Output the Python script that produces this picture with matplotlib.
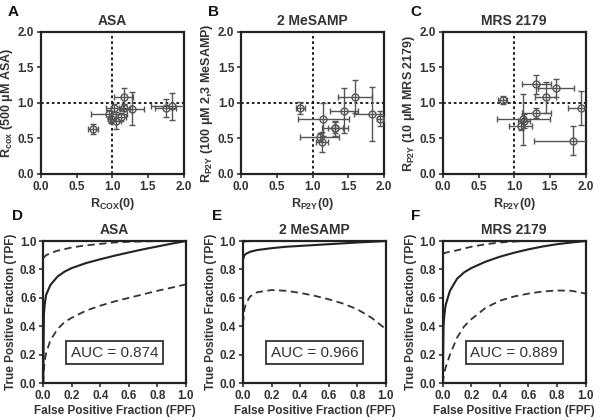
import matplotlib
matplotlib.use("Agg")
import matplotlib.pyplot as plt

plt.rcParams['font.family'] = ['Liberation Sans', 'DejaVu Sans']
plt.rcParams['font.weight'] = 'bold'
plt.rcParams['axes.labelweight'] = 'bold'
plt.rcParams['axes.titleweight'] = 'bold'
plt.rcParams['mathtext.fontset'] = 'custom'
plt.rcParams['mathtext.rm'] = 'Liberation Sans:bold'
plt.rcParams['mathtext.bf'] = 'Liberation Sans:bold'
plt.rcParams['mathtext.default'] = 'bf'

TXT = '#333333'

# ---- scatter data (top row) ----
titles_top = ['ASA', '2 MeSAMP', 'MRS 2179']
ylabels_top = [r'R$_{cox}$ (500 μM ASA)', r'R$_{P2Y}$ (100 μM 2,3 MeSAMP)', r'R$_{P2Y}$ (10 μM MRS 2179)']
xlabels_top = [r'R$_{COX}$(0)', r'R$_{P2Y}$(0)', r'R$_{P2Y}$(0)']

asa_x = [0.73, 0.96, 1.05, 0.99, 1.16, 1.28, 1.17, 1.03, 1.12, 1.75, 1.84]
asa_y = [0.63, 0.85, 0.75, 0.78, 1.09, 0.92, 0.93, 0.93, 0.80, 0.93, 0.95]
asa_xe = [0.07, 0.25, 0.08, 0.05, 0.13, 0.17, 0.08, 0.12, 0.07, 0.15, 0.30]
asa_ye = [0.07, 0.05, 0.12, 0.06, 0.12, 0.23, 0.05, 0.06, 0.06, 0.13, 0.19]

mes_x = [0.83, 1.15, 1.44, 1.59, 1.83, 1.95, 1.31, 1.32, 1.10, 1.13]
mes_y = [0.93, 0.77, 0.89, 1.09, 0.84, 0.78, 0.64, 0.65, 0.52, 0.45]
mes_xe = [0.06, 0.36, 0.20, 0.24, 0.25, 0.05, 0.18, 0.10, 0.27, 0.08]
mes_ye = [0.08, 0.23, 0.32, 0.23, 0.38, 0.11, 0.11, 0.08, 0.05, 0.14]

mrs_x = [0.84, 1.31, 1.59, 1.44, 1.94, 1.31, 1.13, 1.09, 1.82, 1.14]
mrs_y = [1.04, 1.26, 1.21, 1.08, 0.93, 0.86, 0.77, 0.68, 0.47, 0.75]
mrs_xe = [0.06, 0.20, 0.25, 0.15, 0.18, 0.20, 0.37, 0.16, 0.54, 0.08]
mrs_ye = [0.06, 0.14, 0.13, 0.22, 0.24, 0.07, 0.36, 0.06, 0.20, 0.10]

scatter_sets = [(asa_x, asa_y, asa_xe, asa_ye),
                (mes_x, mes_y, mes_xe, mes_ye),
                (mrs_x, mrs_y, mrs_xe, mrs_ye)]

# ---- ROC data (bottom row) ----
titles_bot = ['ASA', '2 MeSAMP', 'MRS 2179']
auc_text = ['AUC = 0.874', 'AUC = 0.966', 'AUC = 0.889']

asa_fpf = [0, 0.005, 0.01, 0.02, 0.05, 0.1, 0.15, 0.2, 0.3, 0.4, 0.5, 0.6, 0.7, 0.8, 0.9, 1.0]
asa_roc = [0, 0.48, 0.55, 0.62, 0.69, 0.75, 0.785, 0.81, 0.845, 0.872, 0.897, 0.92, 0.942, 0.962, 0.982, 1.0]
asa_hi_fpf = [0, 0.02, 0.05, 0.1, 0.2, 0.3, 0.4, 0.5, 0.6, 0.8, 1.0]
asa_hi = [0.88, 0.9, 0.915, 0.932, 0.955, 0.97, 0.98, 0.99, 0.995, 1.0, 1.0]
asa_lo = [0, 0.1, 0.15, 0.21, 0.3, 0.38, 0.43, 0.46, 0.51, 0.545, 0.575, 0.6, 0.625, 0.65, 0.672, 0.695]

mes_fpf = [0, 0.01, 0.02, 0.05, 0.1, 0.2, 0.3, 0.4, 0.5, 0.6, 0.7, 0.8, 0.9, 1.0]
mes_roc = [0.87, 0.9, 0.91, 0.925, 0.937, 0.95, 0.96, 0.966, 0.972, 0.978, 0.984, 0.99, 0.995, 1.0]
mes_hi = [0.995, 0.997, 0.998, 0.999, 1.0, 1.0, 1.0, 1.0, 1.0, 1.0, 1.0, 1.0, 1.0, 1.0]
mes_lo = [0.42, 0.52, 0.56, 0.61, 0.64, 0.655, 0.65, 0.635, 0.615, 0.59, 0.56, 0.52, 0.46, 0.38]

mrs_fpf = [0, 0.005, 0.01, 0.02, 0.05, 0.1, 0.15, 0.2, 0.3, 0.4, 0.5, 0.6, 0.7, 0.8, 0.9, 1.0]
mrs_roc = [0, 0.4, 0.47, 0.55, 0.65, 0.735, 0.78, 0.81, 0.855, 0.89, 0.918, 0.942, 0.962, 0.978, 0.99, 1.0]
mrs_hi = [0.91, 0.912, 0.914, 0.918, 0.925, 0.935, 0.948, 0.96, 0.978, 0.99, 0.997, 1.0, 1.0, 1.0, 1.0, 1.0]
mrs_lo = [0, 0.04, 0.07, 0.11, 0.2, 0.32, 0.4, 0.45, 0.53, 0.58, 0.61, 0.63, 0.645, 0.652, 0.65, 0.63]

roc_sets = [(asa_fpf, asa_roc, asa_hi_fpf, asa_hi, asa_fpf, asa_lo),
            (mes_fpf, mes_roc, mes_fpf, mes_hi, mes_fpf, mes_lo),
            (mrs_fpf, mrs_roc, mrs_fpf, mrs_hi, mrs_fpf, mrs_lo)]

fig = plt.figure(figsize=(6, 4.2), dpi=100)
fig.patch.set_facecolor('white')

lefts_top = [0.068, 0.402, 0.738]
lefts_bot = [0.072, 0.405, 0.738]
w, h = 0.238, 0.338
letters = ['A', 'B', 'C', 'D', 'E', 'F']


def style_axes(ax):
    for s in ax.spines.values():
        s.set_linewidth(1.6)
        s.set_color('#222222')
    ax.tick_params(direction='out', width=1.2, length=3, labelsize=8.5, colors=TXT, pad=2)
    for lab in ax.get_xticklabels() + ax.get_yticklabels():
        lab.set_fontweight('bold')


for i in range(3):
    ax = fig.add_axes([lefts_top[i], 0.586, w, h])
    xs, ys, xe, ye = scatter_sets[i]
    ax.axvline(1.0, color='#111111', ls=(0, (1.5, 1.5)), lw=1.3, zorder=1)
    ax.axhline(1.0, color='#111111', ls=(0, (1.5, 1.5)), lw=1.3, zorder=1)
    ax.errorbar(xs, ys, xerr=xe, yerr=ye, fmt='o', ms=5, mfc='none', mec='#555555',
                mew=1.0, ecolor='#555555', elinewidth=1.0, capsize=2.5, capthick=1.0, zorder=3)
    ax.set_xlim(0, 2)
    ax.set_ylim(0, 2)
    ax.set_xticks([0, 0.5, 1.0, 1.5, 2.0])
    ax.set_yticks([0, 0.5, 1.0, 1.5, 2.0])
    ax.set_xticklabels(['0.0', '0.5', '1.0', '1.5', '2.0'], fontweight='bold')
    ax.set_yticklabels(['0.0', '0.5', '1.0', '1.5', '2.0'], fontweight='bold')
    style_axes(ax)
    ax.set_title(titles_top[i], fontsize=10, fontweight='bold', color=TXT, pad=5)
    ax.set_xlabel(xlabels_top[i], fontsize=9, fontweight='bold', color=TXT, labelpad=2)
    ax.set_ylabel(ylabels_top[i], fontsize=9, fontweight='bold', color=TXT, labelpad=2)
    ax.text(-0.23, 1.09, letters[i], transform=ax.transAxes, fontsize=11,
            fontweight='bold', color='#111111', va='bottom')

for i in range(3):
    ax = fig.add_axes([lefts_bot[i], 0.088, w, h])
    fx, fy, hx, hy, lx, ly = roc_sets[i]
    ax.plot(fx, fy, color='#222222', lw=1.5, zorder=3)
    ax.plot(hx, hy, color='#333333', lw=1.3, ls=(0, (4, 2.5)), zorder=2)
    ax.plot(lx, ly, color='#333333', lw=1.3, ls=(0, (4, 2.5)), zorder=2)
    ax.set_xlim(0, 1)
    ax.set_ylim(0, 1)
    ax.set_xticks([0, 0.2, 0.4, 0.6, 0.8, 1.0])
    ax.set_yticks([0, 0.2, 0.4, 0.6, 0.8, 1.0])
    ax.set_xticklabels(['0.0', '0.2', '0.4', '0.6', '0.8', '1.0'], fontweight='bold')
    ax.set_yticklabels(['0.0', '0.2', '0.4', '0.6', '0.8', '1.0'], fontweight='bold')
    style_axes(ax)
    ax.set_title(titles_bot[i], fontsize=10, fontweight='bold', color=TXT, pad=5)
    ax.set_xlabel('False Positive Fraction (FPF)', fontsize=8.5, fontweight='bold', color=TXT, labelpad=2)
    ax.set_ylabel('True Positive Fraction (TPF)', fontsize=8.5, fontweight='bold', color=TXT, labelpad=2)
    ax.text(0.5, 0.215, auc_text[i], transform=ax.transAxes, ha='center', va='center',
            fontsize=11, fontweight='normal', color=TXT,
            bbox=dict(boxstyle='square,pad=0.3', fc='white', ec='#333333', lw=1.3))
    ax.text(-0.22, 1.13, letters[i + 3], transform=ax.transAxes, fontsize=11,
            fontweight='bold', color='#111111', va='bottom')

fig.savefig('out.png', dpi=100, facecolor='white')
